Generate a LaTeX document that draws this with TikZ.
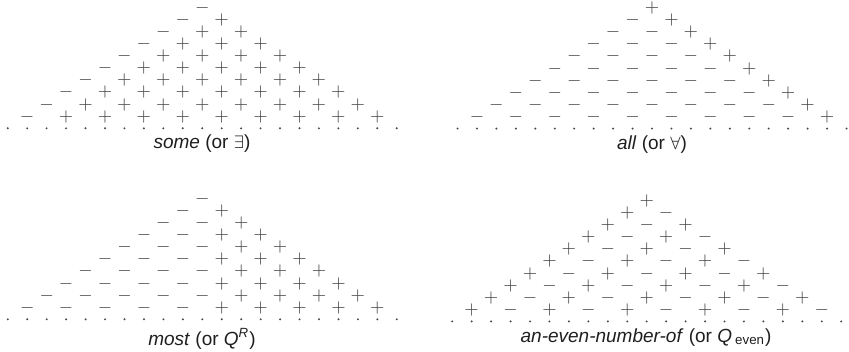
\documentclass[tikz,border=0pt]{standalone}
\usepackage{fontspec}
\setmainfont{Liberation Sans}
\usepackage{tikz}
\tikzset{
  entry/.style  = {inner sep=0pt, text height=0.5em, text depth=0pt,
                   text=black!72, font=\fontsize{9.5}{11}\selectfont},
  qlabel/.style = {inner sep=0pt, anchor=base, text=black!88,
                   font=\fontsize{9.5}{11}\selectfont},
  dotmark/.style = {fill=black!72},
}
\newcommand{\hstep}{19.45}
\newcommand{\vstep}{12.1}
% #1 name, #2 apex x, #3 apex y, #4 test on \qa and \qb (1 gives +)
\newcommand{\quanttri}[4]{%
  \foreach \n in {0,...,9}{
    \foreach \k in {0,...,\n}{
      \pgfmathtruncatemacro{\qa}{\n-\k}
      \pgfmathtruncatemacro{\qb}{\k}
      \pgfmathtruncatemacro{\qt}{#4}
      \ifnum\qt=1 \def\qsym{$+$}\else\def\qsym{$-$}\fi
      \node[entry] (#1-\n-\k) at ({#2+(2*\k-\n)*\hstep},{#3+\n*\vstep}) {\qsym};
    }
  }
  \foreach \j in {-10,...,10}
    \fill[dotmark] ({#2+\j*\hstep},{#3+10*\vstep}) circle[radius=0.55pt];
}

\begin{document}
\begin{tikzpicture}[x=0.5pt,y=-0.5pt]
\useasboundingbox (0,0) rectangle (849,352);
\quanttri{some}{202.2}{7.3}{\qb>0}
\quanttri{all}{652}{7.6}{\qa==0}
\quanttri{most}{202.3}{198.3}{\qb>\qa}
\quanttri{even}{646.7}{200.4}{mod(\qb,2)==0}
\node[qlabel] (some-label) at (202,148.3) {\textit{some} (or $\exists$)};
\node[qlabel] (all-label) at (652,149) {\textit{all} (or $\forall$)};
\node[qlabel] (most-label) at (202,345) {\textit{most} (or \textit{Q}\textsuperscript{\textit{R}})};
\node[qlabel] (even-label) at (646,342.3) {\textit{an-even-number-of} (or \textit{Q}\,\textsubscript{even})};
\end{tikzpicture}
\end{document}
